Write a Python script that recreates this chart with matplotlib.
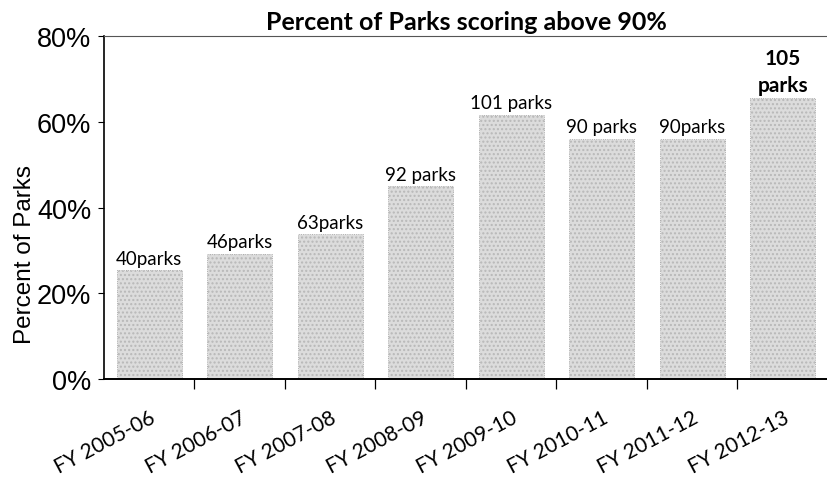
import numpy as np
import matplotlib.pyplot as plt
from matplotlib.ticker import PercentFormatter

# data
years = ['FY 2005-06', 'FY 2006-07', 'FY 2007-08', 'FY 2008-09',
         'FY 2009-10', 'FY 2010-11', 'FY 2011-12', 'FY 2012-13']
pct = [25.4, 29.2, 33.8, 45.0, 61.6, 56.0, 56.0, 65.5]
labels = ['40parks', '46parks', '63parks', '92 parks',
          '101 parks', '90 parks', '90parks', '105\nparks']

fig = plt.figure(figsize=(8.28, 4.81), dpi=100)
ax = fig.add_axes([0.1256, 0.21, 0.8744, 0.713])

x = np.arange(len(years))
bars = ax.bar(x, pct, width=0.72, color='#dcdcdc', edgecolor='#a0a0a0',
              linewidth=0.6, linestyle=':', hatch='....')
for b in bars:
    b._hatch_color = (0.72, 0.72, 0.72, 1)

for i, (v, lab) in enumerate(zip(pct, labels)):
    last = i == len(labels) - 1
    ax.text(i, v + 0.8, lab, ha='center', va='bottom',
            fontsize=15 if last else 13.5, family='Lato',
            fontweight='bold' if last else 'normal', linespacing=1.45)

ax.set_xlim(-0.5, len(years) - 0.5)
ax.set_ylim(0, 80)
ax.set_yticks([0, 20, 40, 60, 80])
ax.yaxis.set_major_formatter(PercentFormatter(decimals=0))
ax.tick_params(axis='y', labelsize=19.5, length=4, width=0.8, pad=5)
for t in ax.get_yticklabels():
    t.set_family('Liberation Sans')

ax.set_xticks(x)
ax.set_xticklabels(years, rotation=28, ha='right', rotation_mode='anchor',
                   fontsize=15, family='Lato')
ax.tick_params(axis='x', length=0, pad=20)
ax.set_xticks(np.arange(0.5, len(years) - 0.5), minor=True)
ax.tick_params(axis='x', which='minor', length=7, width=0.9, direction='out')

ax.set_ylabel('Percent of Parks', fontsize=17.5, family='Liberation Sans')
ax.yaxis.set_label_coords(-0.094, 0.365)
ax.set_title('Percent of Parks scoring above 90%', fontsize=18,
             fontweight='bold', family='Lato', pad=5)

ax.spines['right'].set_visible(False)
ax.spines['top'].set_linestyle((0, (2, 1)))
ax.spines['top'].set_color('#555555')
ax.spines['left'].set_linewidth(1.2)
ax.spines['bottom'].set_linewidth(1.4)

fig.savefig('out.png', dpi=100)
